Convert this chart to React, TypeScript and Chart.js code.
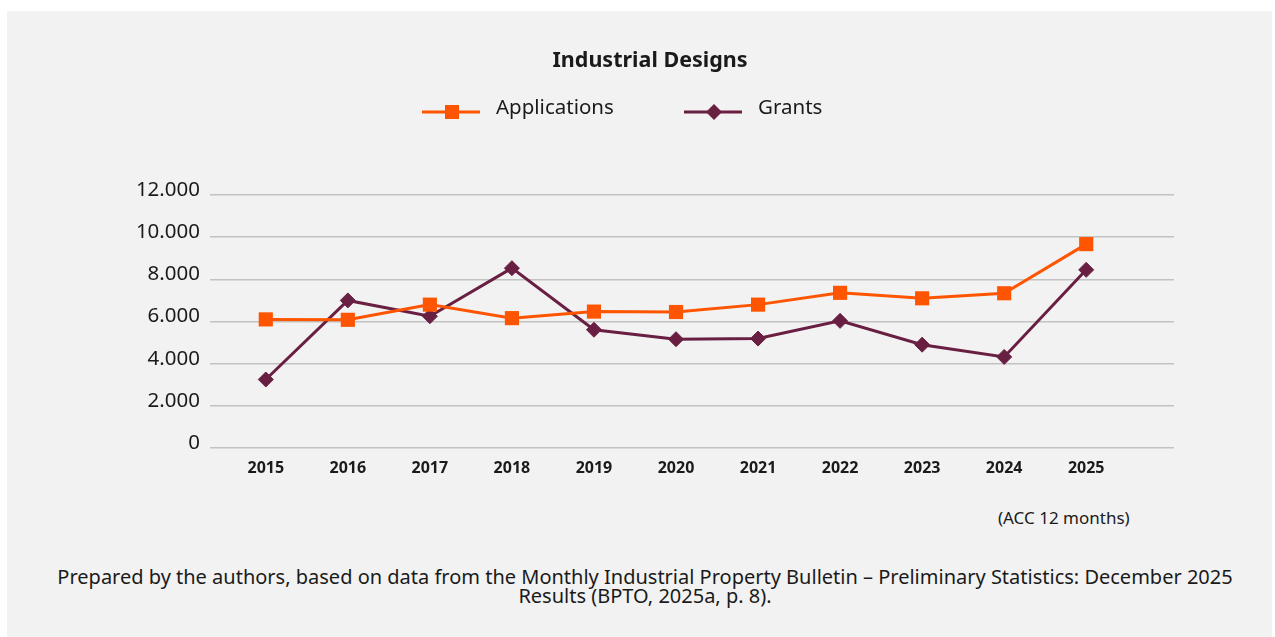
import React, { useEffect, useRef } from 'react';
import { Chart, registerables } from 'chart.js';

Chart.register(...registerables);

const years = [2015, 2016, 2017, 2018, 2019, 2020, 2021, 2022, 2023, 2024, 2025];
const applications = [6100, 6080, 6800, 6160, 6470, 6450, 6800, 7360, 7100, 7340, 9670];
const grants = [3250, 7000, 6250, 8530, 5610, 5160, 5190, 6030, 4900, 4320, 8450];
const yTickValues = [0, 2000, 4000, 6000, 8000, 10000, 12000];
const seriesNames = ['Applications', 'Grants'];
const chartTitle = 'Industrial Designs';
const noteText = '(ACC 12 months)';
const sourceLine1 = 'Prepared by the authors, based on data from the Monthly Industrial Property Bulletin – Preliminary Statistics: December 2025';
const sourceLine2 = 'Results (BPTO, 2025a, p. 8).';

const ORANGE = '#ff5500';
const PURPLE = '#691f42';
const TEXT = '#1a1a1a';
const FONT = '"Noto Sans", sans-serif';

const fmt = (v: number) => String(v).replace(/\B(?=(\d{3})+(?!\d))/g, '.');

const headerPlugin = {
  id: 'headerLegend',
  afterDraw(chart: any) {
    const ctx = chart.ctx as CanvasRenderingContext2D;
    ctx.save();
    ctx.fillStyle = TEXT;
    ctx.font = `bold 21.5px ${FONT}`;
    ctx.textAlign = 'center';
    ctx.textBaseline = 'middle';
    ctx.fillText(chartTitle, 650, 61);
    ctx.restore();

    const starts = [422, 684];
    const lineY = 112;
    chart.data.datasets.forEach((ds: any, i: number) => {
      const x0 = starts[i];
      ctx.save();
      ctx.strokeStyle = ds.borderColor;
      ctx.lineWidth = ds.borderWidth;
      ctx.beginPath();
      ctx.moveTo(x0, lineY);
      ctx.lineTo(x0 + 58, lineY);
      ctx.stroke();
      const cx = x0 + 30;
      ctx.fillStyle = ds.pointBackgroundColor;
      ctx.beginPath();
      if (ds.pointStyle === 'rect') {
        ctx.rect(cx - 7, lineY - 7, 14, 14);
      } else {
        ctx.moveTo(cx, lineY - 8);
        ctx.lineTo(cx + 8, lineY);
        ctx.lineTo(cx, lineY + 8);
        ctx.lineTo(cx - 8, lineY);
        ctx.closePath();
      }
      ctx.fill();
      ctx.fillStyle = TEXT;
      ctx.font = `20.5px ${FONT}`;
      ctx.textBaseline = 'middle';
      ctx.textAlign = 'left';
      ctx.fillText(ds.label, x0 + 74, lineY - 4);
      ctx.restore();
    });
  },
};

export default function App() {
  const ref = useRef<HTMLCanvasElement | null>(null);

  useEffect(() => {
    if (!ref.current) return;
    const chart = new Chart(ref.current, {
      type: 'line',
      data: {
        datasets: [
          {
            label: seriesNames[0],
            data: years.map((y, i) => ({ x: y, y: applications[i] })),
            borderColor: ORANGE,
            backgroundColor: ORANGE,
            pointBackgroundColor: ORANGE,
            pointBorderColor: ORANGE,
            pointStyle: 'rect',
            pointRadius: 10,
            pointBorderWidth: 0,
            borderWidth: 3,
            tension: 0,
          },
          {
            label: seriesNames[1],
            data: years.map((y, i) => ({ x: y, y: grants[i] })),
            borderColor: PURPLE,
            backgroundColor: PURPLE,
            pointBackgroundColor: PURPLE,
            pointBorderColor: PURPLE,
            pointStyle: 'rectRot',
            pointRadius: 7.5,
            pointBorderWidth: 1,
            borderWidth: 3,
            tension: 0,
          },
        ],
      },
      options: {
        responsive: false,
        animation: false,
        events: [],
        layout: { padding: { left: 0, right: 101, top: 195, bottom: 0 } },
        plugins: {
          legend: { display: false },
          tooltip: { enabled: false },
          title: { display: false },
        },
        scales: {
          x: {
            type: 'linear',
            min: 2014.32,
            max: 2026.07,
            afterBuildTicks: (axis: any) => {
              axis.ticks = years.map((v) => ({ value: v }));
            },
            afterFit: (axis: any) => {
              axis.height = 52;
            },
            grid: { display: false, drawTicks: false },
            border: { display: false },
            ticks: {
              padding: 11,
              color: TEXT,
              font: { family: FONT, size: 16, weight: 'bold' },
              autoSkip: false,
              maxRotation: 0,
              callback: (v: any) => String(v),
            },
          },
          y: {
            min: 0,
            max: 12000,
            afterBuildTicks: (axis: any) => {
              axis.ticks = yTickValues.map((v) => ({ value: v }));
            },
            afterFit: (axis: any) => {
              axis.width = 210;
            },
            grid: { color: '#c2c2c2', lineWidth: 1.5, drawTicks: false },
            border: { display: false },
            ticks: {
              padding: 10,
              labelOffset: -5,
              color: TEXT,
              font: { family: FONT, size: 20.5 },
              callback: (v: any) => fmt(Number(v)),
            },
          },
        },
      },
      plugins: [headerPlugin],
    } as any);
    return () => chart.destroy();
  }, []);

  return (
    <div style={{ position: 'absolute', left: 0, top: 0, width: 1275, height: 637, overflow: 'hidden', fontFamily: FONT, color: TEXT }}>
      <div style={{ position: 'absolute', left: 7, top: 11, width: 1265, height: 630, background: '#f2f2f2' }} />
      <canvas ref={ref} width={1275} height={500} style={{ position: 'absolute', left: 0, top: 0, width: 1275, height: 500 }} />
      <div style={{ position: 'absolute', left: 998, top: 507, fontSize: 17, lineHeight: '22px', whiteSpace: 'nowrap' }}>{noteText}</div>
      <div style={{ position: 'absolute', left: 45, top: 567, width: 1200, textAlign: 'center', fontSize: 20, lineHeight: '19px', whiteSpace: 'nowrap' }}>
        <div>{sourceLine1}</div>
        <div>{sourceLine2}</div>
      </div>
    </div>
  );
}
